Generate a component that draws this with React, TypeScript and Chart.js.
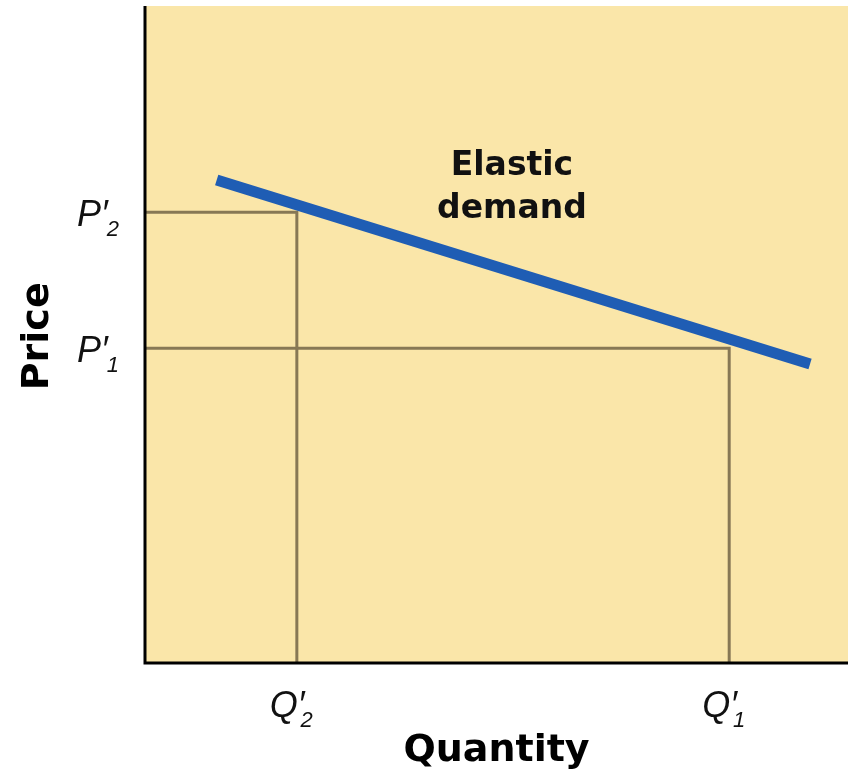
import React, { useEffect, useRef } from "react";
import { Chart, registerables } from "chart.js";

Chart.register(...registerables);

// Demand curve endpoints (quantity, price) in arbitrary 0-100 units
const demandQ = [10.2, 94.6];
const demandP = [73.5, 45.5];

// Reference points
const Q2 = 21.6;
const P2 = 68.6;
const Q1 = 83.1;
const P1 = 47.9;

const priceLabels = [
  { base: "P′", sub: "2", value: P2 },
  { base: "P′", sub: "1", value: P1 },
];
const quantityLabels = [
  { base: "Q′", sub: "2", value: Q2 },
  { base: "Q′", sub: "1", value: Q1 },
];
const curveLabelLines = ["Elastic", "demand"];
const curveLabelPos = { x: 52.2, y: [75.6, 69.0] };

const BG = "#FAE6A9";
const GUIDE = "#877855";
const BLUE = "#1F5DB4";

const decorPlugin = {
  id: "decor",
  beforeDraw(chart: any) {
    const { ctx, chartArea } = chart;
    ctx.save();
    ctx.fillStyle = BG;
    ctx.fillRect(chartArea.left, chartArea.top, chartArea.right - chartArea.left, chartArea.bottom - chartArea.top);
    ctx.restore();
  },
  afterDraw(chart: any) {
    const { ctx, chartArea, scales } = chart;
    const xs = scales.x;
    const ys = scales.y;
    ctx.save();
    // axes
    ctx.strokeStyle = "#000";
    ctx.lineWidth = 3;
    ctx.beginPath();
    ctx.moveTo(chartArea.left, chartArea.top);
    ctx.lineTo(chartArea.left, chartArea.bottom);
    ctx.lineTo(chartArea.right, chartArea.bottom);
    ctx.stroke();

    // price labels
    ctx.fillStyle = "#111";
    for (const l of priceLabels) {
      const y = ys.getPixelForValue(l.value);
      ctx.font = "italic 36px 'Liberation Sans', Arial, sans-serif";
      ctx.textAlign = "left";
      ctx.textBaseline = "alphabetic";
      const bx = chartArea.left - 68;
      ctx.fillText(l.base, bx, y + 14);
      const w = ctx.measureText(l.base).width;
      ctx.font = "italic 22px 'Liberation Sans', Arial, sans-serif";
      ctx.fillText(l.sub, bx + w - 1, y + 24);
    }
    // quantity labels
    for (const l of quantityLabels) {
      const x = xs.getPixelForValue(l.value);
      ctx.font = "italic 36px 'Liberation Sans', Arial, sans-serif";
      ctx.textAlign = "left";
      ctx.textBaseline = "alphabetic";
      const bx = x - 27;
      ctx.fillText(l.base, bx, chartArea.bottom + 54);
      const w = ctx.measureText(l.base).width;
      ctx.font = "italic 22px 'Liberation Sans', Arial, sans-serif";
      ctx.fillText(l.sub, bx + w - 4, chartArea.bottom + 64);
    }
    // axis titles
    ctx.fillStyle = "#000";
    ctx.font = "bold 38px 'DejaVu Sans', sans-serif";
    ctx.textAlign = "center";
    ctx.textBaseline = "middle";
    ctx.fillText("Quantity", (chartArea.left + chartArea.right) / 2, chartArea.bottom + 88);
    ctx.save();
    ctx.translate(38, ys.getPixelForValue(P1) - 12);
    ctx.rotate(-Math.PI / 2);
    ctx.fillText("Price", 0, 0);
    ctx.restore();

    // curve label
    ctx.font = "bold 33px 'DejaVu Sans', sans-serif";
    ctx.fillStyle = "#111";
    curveLabelLines.forEach((t, i) => {
      ctx.fillText(t, xs.getPixelForValue(curveLabelPos.x), ys.getPixelForValue(curveLabelPos.y[i]));
    });
    ctx.restore();
  },
};

export default function App() {
  const ref = useRef<HTMLCanvasElement | null>(null);
  useEffect(() => {
    document.body.style.margin = "0";
    if (!ref.current) return;
    const chart = new Chart(ref.current, {
      type: "line",
      data: {
        datasets: [
          {
            data: demandQ.map((q, i) => ({ x: q, y: demandP[i] })),
            borderColor: BLUE,
            borderWidth: 11,
            borderCapStyle: "butt",
            pointRadius: 0,
            fill: false,
          },
          {
            data: [
              { x: 0, y: P2 },
              { x: Q2, y: P2 },
              { x: Q2, y: 0 },
            ],
            borderColor: GUIDE,
            borderWidth: 3,
            pointRadius: 0,
            fill: false,
          },
          {
            data: [
              { x: 0, y: P1 },
              { x: Q1, y: P1 },
              { x: Q1, y: 0 },
            ],
            borderColor: GUIDE,
            borderWidth: 3,
            pointRadius: 0,
            fill: false,
          },
        ],
      },
      options: {
        animation: false,
        responsive: false,
        layout: { padding: { left: 145, right: 2, top: 6, bottom: 112 } },
        plugins: { legend: { display: false }, tooltip: { enabled: false } },
        scales: {
          x: { type: "linear", min: 0, max: 100, display: false },
          y: { type: "linear", min: 0, max: 100, display: false },
        },
      },
      plugins: [decorPlugin],
    } as any);
    return () => chart.destroy();
  }, []);
  return (
    <div style={{ width: 850, height: 775, background: "#fff" }}>
      <canvas ref={ref} width={850} height={775} />
    </div>
  );
}
